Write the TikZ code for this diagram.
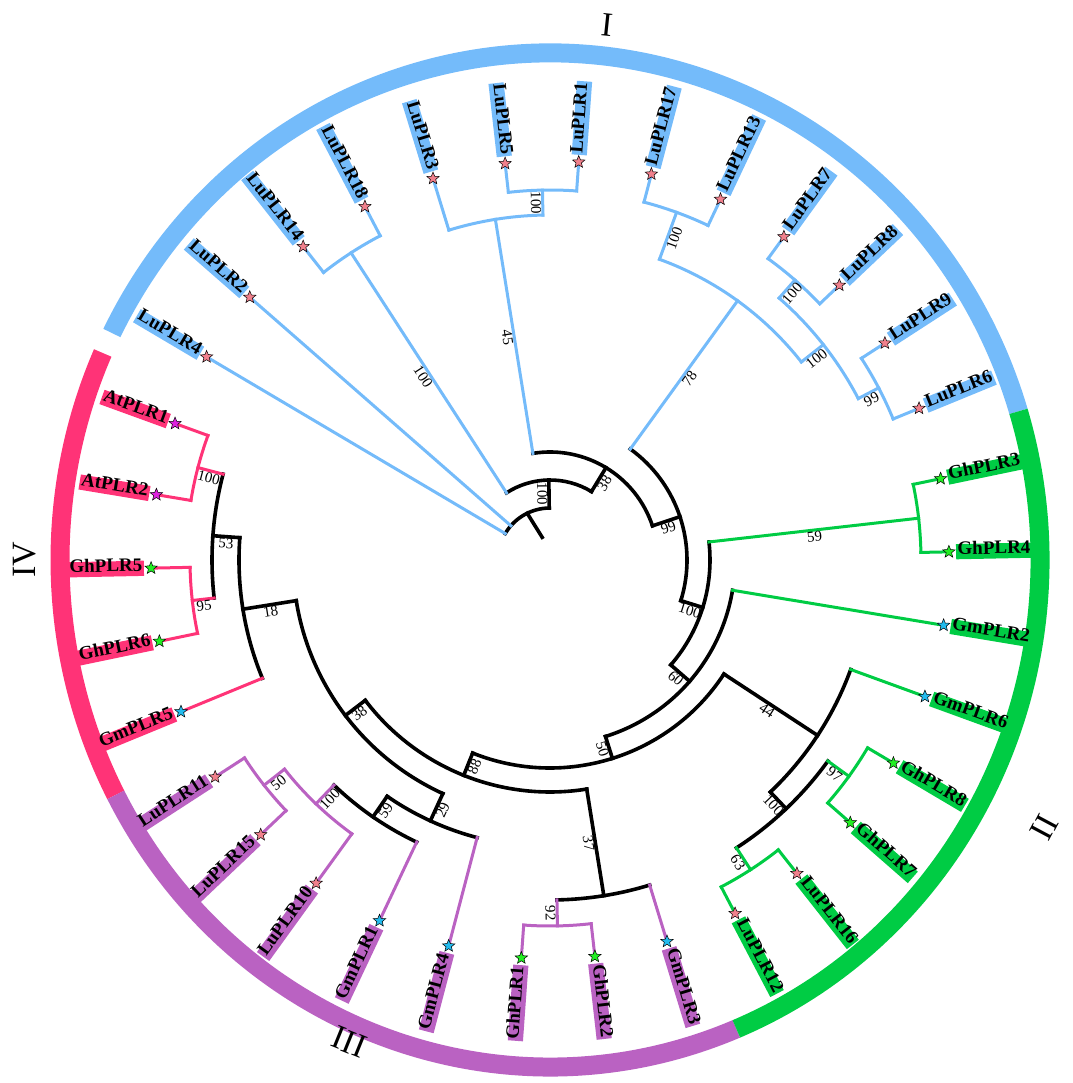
\documentclass[tikz,border=0pt]{standalone}
\usepackage{fontspec}
\setmainfont{Liberation Serif}
\usetikzlibrary{shapes.geometric}
\definecolor{cI}{RGB}{116,187,250}
\definecolor{cII}{RGB}{0,204,68}
\definecolor{cIII}{RGB}{186,98,194}
\definecolor{cIV}{RGB}{255,51,119}
\definecolor{sLu}{RGB}{240,128,140}
\definecolor{sGh}{RGB}{34,238,34}
\definecolor{sGm}{RGB}{34,187,238}
\definecolor{sAt}{RGB}{221,34,221}
\tikzset{
  br/.style={line width=3pt, line cap=rect},
  bk/.style={line width=3.6pt, line cap=rect, black},
  lbl/.style={font=\bfseries\fontsize{19}{19}\selectfont, inner xsep=1.5pt, inner ysep=2.5pt, text height=0.8em, text depth=0.22em},
  starn/.style={star, star points=5, star point ratio=2.3, minimum size=13pt, inner sep=0pt, draw=black, line width=0.5pt},
  bsl/.style={font=\fontsize{15}{15}\selectfont, anchor=north, inner sep=1.5pt},
  num/.style={font=\fontsize{34}{34}\selectfont, inner sep=0pt},
  ring/.style={line width=19pt, line cap=butt}
}
% radial branch: style, angle, r1, r2
\newcommand{\BR}[4]{\draw[#1] (#2:#3pt) -- (#2:#4pt);}
% arc branch: style, radius, a1, a2
\newcommand{\BA}[4]{\draw[#1] (#3:#2pt) arc[start angle=#3, end angle=#4, radius=#2pt];}
% elliptic ring segment: style, a1, a2
\newcommand{\RG}[3]{\draw[ring, #1] ({490*cos(#2)},{507*sin(#2)}) arc[start angle=#2, end angle=#3, x radius=490pt, y radius=507pt];}
% bootstrap label: angle, radius, text
\newcommand{\BS}[3]{%
  \pgfmathparse{cos(#1)}%
  \ifdim\pgfmathresult pt<0pt \pgfmathsetmacro{\rt}{#1+180}\else\pgfmathsetmacro{\rt}{#1}\fi
  \node[bsl, rotate=\rt] at (#1:#2pt) {#3};}
% leaf: name, angle, parent radius, colour, star colour
\newcommand{\LF}[5]{%
  \draw[br, #4] (#2:#3pt) -- (#2:396pt);
  \pgfmathparse{cos(#2)}%
  \ifdim\pgfmathresult pt<0pt \pgfmathsetmacro{\rt}{#2+180}\def\an{east}\else\pgfmathsetmacro{\rt}{#2}\def\an{west}\fi
  \node[lbl, fill=#4, rotate=\rt, anchor=\an] (#1) at (#2:406pt) {#1};
  \node[starn, fill=#5] (s#1) at (#2:399pt) {};}
\begin{document}
\begin{tikzpicture}[x=1pt,y=1pt]
\useasboundingbox (-550pt,-523pt) rectangle (522pt,560pt);
% outer ring
\RG{cI}{17.05}{153.4}
\RG{cIV}{155.9}{207.6}
\RG{cIII}{-152.4}{-67.65}
\RG{cII}{-67.65}{17.05}
% backbone (black)
\draw[bk] (116:52pt) -- (109:24pt);
\BA{bk}{52}{149.40}{90.85}
\BR{bk}{90.85}{52}{80} \BA{bk}{80}{122.93}{58.77}
\BR{bk}{58.77}{80}{108} \BA{bk}{108}{99.11}{18.43}
\BR{bk}{18.43}{108}{137} \BA{bk}{137}{54.11}{-17.26}
\BR{bk}{-17.26}{137}{160} \BA{bk}{160}{6.47}{-40.98}
\BR{bk}{-40.98}{160}{185} \BA{bk}{185}{-9.42}{-72.54}
\BR{bk}{-72.54}{185}{208} \BA{bk}{208}{-33.25}{-111.83}
\BR{bk}{-33.25}{208}{320} \BA{bk}{320}{-20.01}{-46.48}
\BR{bk}{-46.48}{320}{343} \BA{bk}{343}{-35.89}{-57.07}
\BR{bk}{-111.83}{208}{232} \BA{bk}{232}{-80.89}{-142.77}
\BR{bk}{-80.89}{232}{340} \BA{bk}{340}{-72.95}{-88.83}
\BR{bk}{-142.77}{232}{257} \BA{bk}{257}{-114.64}{-170.9}
\BR{bk}{-114.64}{257}{287} \BA{bk}{287}{-104.71}{-124.57}
\BR{bk}{-124.57}{287}{312} \BA{bk}{312}{-115.30}{-133.83}
\BR{bk}{-170.9}{257}{311} \BA{bk}{311}{175.88}{202.35}
\BR{bk}{175.88}{311}{338} \BA{bk}{338}{165.29}{186.46}
% clade I (blue)
\BR{br, cI}{122.93}{80}{366} \BA{br, cI}{366}{128.22}{117.64}
\BR{br, cI}{99.11}{108}{345} \BA{br, cI}{345}{107.05}{91.17}
\BR{br, cI}{91.17}{345}{370} \BA{br, cI}{370}{96.46}{85.87}
\BR{br, cI}{54.11}{137}{320} \BA{br, cI}{320}{69.99}{38.23}
\BR{br, cI}{69.99}{320}{370} \BA{br, cI}{370}{75.28}{64.70}
\BR{br, cI}{38.23}{320}{348} \BA{br, cI}{348}{48.82}{27.64}
\BR{br, cI}{48.82}{348}{372} \BA{br, cI}{372}{54.11}{43.52}
\BR{br, cI}{27.64}{348}{371} \BA{br, cI}{371}{32.93}{22.34}
% clade II (green)
\BR{br, cII}{6.47}{160}{371} \BA{br, cII}{371}{11.76}{1.17}
\BR{br, cII}{-35.89}{343}{369} \BA{br, cII}{369}{-30.60}{-41.18}
\BR{br, cII}{-57.07}{343}{369} \BA{br, cII}{369}{-51.77}{-62.36}
% clade III (purple)
\BR{br, cIII}{-88.83}{340}{366} \BA{br, cIII}{366}{-83.54}{-94.12}
\BR{br, cIII}{-133.83}{312}{338} \BA{br, cIII}{338}{-125.89}{-141.77}
\BR{br, cIII}{-141.77}{338}{364} \BA{br, cIII}{364}{-136.48}{-147.06}
% clade IV (pink)
\BR{br, cIV}{165.29}{338}{364} \BA{br, cIV}{364}{160}{170.58}
\BR{br, cIV}{186.46}{338}{360} \BA{br, cIV}{360}{181.17}{191.76}
% leaves
\LF{LuPLR4}{149.40}{52}{cI}{sLu}
\LF{LuPLR2}{138.81}{52}{cI}{sLu}
\LF{LuPLR14}{128.22}{366}{cI}{sLu}
\LF{LuPLR18}{117.64}{366}{cI}{sLu}
\LF{LuPLR3}{107.05}{345}{cI}{sLu}
\LF{LuPLR5}{96.46}{370}{cI}{sLu}
\LF{LuPLR1}{85.87}{370}{cI}{sLu}
\LF{LuPLR17}{75.28}{370}{cI}{sLu}
\LF{LuPLR13}{64.70}{370}{cI}{sLu}
\LF{LuPLR7}{54.11}{372}{cI}{sLu}
\LF{LuPLR8}{43.52}{372}{cI}{sLu}
\LF{LuPLR9}{32.93}{371}{cI}{sLu}
\LF{LuPLR6}{22.34}{371}{cI}{sLu}
\LF{GhPLR3}{11.76}{371}{cII}{sGh}
\LF{GhPLR4}{1.17}{371}{cII}{sGh}
\LF{GmPLR2}{-9.42}{185}{cII}{sGm}
\LF{GmPLR6}{-20.01}{320}{cII}{sGm}
\LF{GhPLR8}{-30.60}{369}{cII}{sGh}
\LF{GhPLR7}{-41.18}{369}{cII}{sGh}
\LF{LuPLR16}{-51.77}{369}{cII}{sLu}
\LF{LuPLR12}{-62.36}{369}{cII}{sLu}
\LF{GmPLR3}{-72.95}{340}{cIII}{sGm}
\LF{GhPLR2}{-83.54}{366}{cIII}{sGh}
\LF{GhPLR1}{-94.12}{366}{cIII}{sGh}
\LF{GmPLR4}{-104.71}{287}{cIII}{sGm}
\LF{GmPLR1}{-115.30}{312}{cIII}{sGm}
\LF{LuPLR10}{-125.89}{338}{cIII}{sLu}
\LF{LuPLR15}{-136.48}{364}{cIII}{sLu}
\LF{LuPLR11}{-147.06}{364}{cIII}{sLu}
\LF{GmPLR5}{-157.65}{311}{cIV}{sGm}
\LF{GhPLR6}{-168.24}{360}{cIV}{sGh}
\LF{GhPLR5}{-178.83}{360}{cIV}{sGh}
\LF{AtPLR2}{170.58}{364}{cIV}{sAt}
\LF{AtPLR1}{160.00}{364}{cIV}{sAt}
% bootstrap values
\BS{91.17}{357.5}{100}
\BS{99.11}{226.5}{45}
\BS{122.93}{223}{100}
\BS{54.11}{228.5}{78}
\BS{69.99}{345}{100}
\BS{38.23}{334}{100}
\BS{48.82}{360}{100}
\BS{27.64}{359.5}{99}
\BS{6.47}{265.5}{59}
\BS{-35.89}{356}{97}
\BS{-57.07}{356}{63}
\BS{-46.48}{331.5}{100}
\BS{-33.25}{264}{44}
\BS{-88.83}{353}{92}
\BS{-80.89}{286}{37}
\BS{-133.83}{325}{100}
\BS{-141.77}{351}{50}
\BS{-124.57}{299.5}{59}
\BS{-114.64}{272}{29}
\BS{165.29}{351}{100}
\BS{186.46}{349}{95}
\BS{175.88}{324.5}{53}
\BS{189.1}{284}{18}
\BS{-142.77}{244.5}{38}
\BS{-111.83}{220}{88}
\BS{-72.54}{196.5}{50}
\BS{-40.98}{172.5}{60}
\BS{-17.26}{148.5}{100}
\BS{18.43}{122.5}{99}
\BS{58.77}{94}{38}
\BS{90.85}{66}{100}
% clade numerals
\node[num, rotate=-6] (nI) at (83.9:538pt) {I};
\node[num, rotate=62] (nII) at (-28.4:562pt) {II};
\node[num, rotate=-22] (nIII) at (-112.6:522pt) {III};
\node[num, rotate=90] (nIV) at (180:525pt) {IV};
\end{tikzpicture}
\end{document}
